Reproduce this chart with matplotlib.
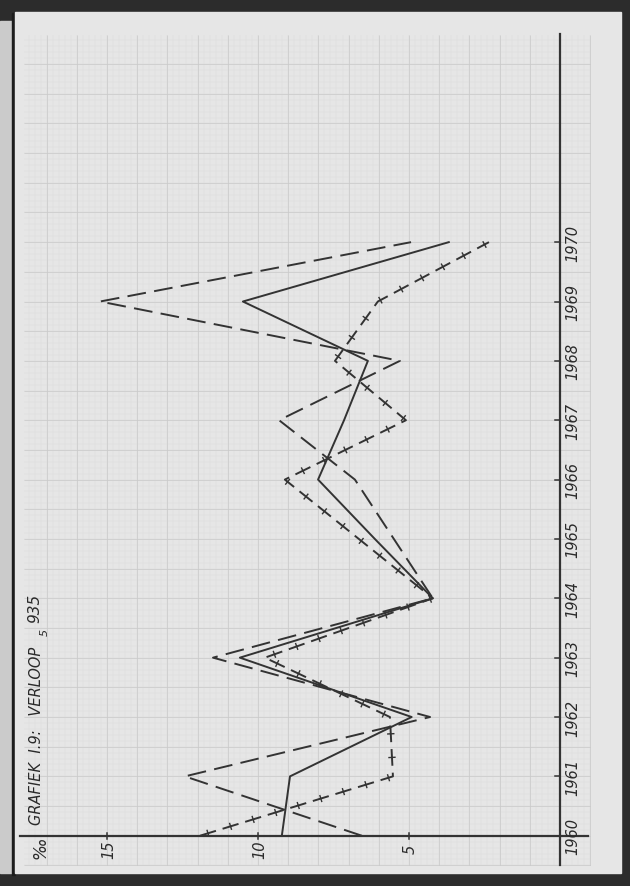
import numpy as np
import matplotlib
matplotlib.use('Agg')
import matplotlib.pyplot as plt
from matplotlib.patches import Rectangle

# values in promille
years = list(range(1960, 1971))
solid = [9.21, 8.94, 4.91, 10.60, 4.21, 6.13, 8.01, 7.15, 6.36, 10.50, 3.68]
dashed = [6.56, 12.42, 4.30, 11.49, 4.21, 5.50, 6.79, 9.30, 5.30, 15.23, 4.93]
crossed = [11.92, 5.53, 5.63, 9.77, 4.21, 6.66, 9.11, 5.10, 7.45, 6.03, 2.35]
value_ticks = [15, 10, 5]

W, H = 630, 887
ink = '#333333'
paper = '#e6e6e6'
plt.rcParams['lines.scale_dashes'] = False

fig = plt.figure(figsize=(W / 100, H / 100), dpi=100)
fig.patch.set_facecolor('#2c2c2c')


def frac(x0, y0, x1, y1):
    # pixel box (top-left origin) -> figure fraction rect
    return (x0 / W, 1 - y1 / H, (x1 - x0) / W, (y1 - y0) / H)


# binding strip and page
l, b, w, h = frac(0, 22, 12, 874)
fig.add_artist(Rectangle((l, b), w, h, transform=fig.transFigure, color='#cbcbcb', zorder=0))
l, b, w, h = frac(12, 14, 15, 876)
fig.add_artist(Rectangle((l, b), w, h, transform=fig.transFigure, color='#1c1c1c', zorder=0))
l, b, w, h = frac(15, 13, 621, 874)
fig.add_artist(Rectangle((l, b), w, h, transform=fig.transFigure, color=paper, zorder=0))

ax = fig.add_axes(frac(24, 36, 591, 867))
ax.set_xlim(17.75, -1.03)
ax.set_ylim(1959.49, 1973.49)
ax.set_facecolor(paper)
for s in ax.spines.values():
    s.set_visible(False)
ax.set_xticks([])
ax.set_yticks([])

# graph paper
x0, x1 = ax.get_xlim()
y0, y1 = ax.get_ylim()
ax.vlines(np.arange(-1.0, 17.8, 0.2), y0, y1, color='#dcdcdc', lw=0.3, zorder=1)
ax.hlines(np.arange(1959.5, 1973.5, 0.1), x1, x0, color='#dcdcdc', lw=0.3, zorder=1)
ax.vlines(np.arange(-1.0, 17.8, 1.0), y0, y1, color='#c9c9c9', lw=0.5, zorder=1)
ax.hlines(np.arange(1959.5, 1973.5, 0.5), x1, x0, color='#c9c9c9', lw=0.5, zorder=1)

# axes lines
ax.axhline(1960, xmin=-0.007, xmax=0.995, color=ink, lw=1.6, clip_on=False, zorder=3)
ax.axvline(0, ymin=0.001, ymax=1.001, color=ink, lw=1.6, clip_on=False, zorder=3)
for yr in years:
    ax.plot([0, 0.15], [yr, yr], color=ink, lw=1.1, zorder=3)
    ax.text(-0.44, yr, str(yr), rotation=90, ha='center', va='center',
            fontsize=10.5, style='italic', color='#2a2a2a')
for v in value_ticks:
    ax.plot([v, v], [1959.95, 1960.04], color=ink, lw=1.1, zorder=3)
    ax.text(v - 0.05, 1959.78, str(v), rotation=90, ha='center', va='center',
            fontsize=10.5, style='italic', color='#2a2a2a')

ax.text(17.22, 1959.81, '‰', rotation=90, ha='center', va='center',
        fontsize=12, style='italic', color='#2a2a2a', clip_on=False)
ax.text(17.35, 1961.70, 'GRAFIEK  I.9:   VERLOOP', rotation=90, ha='center', va='center',
        fontsize=10.5, style='italic', color='#2a2a2a')
ax.text(17.38, 1963.85, '935', rotation=90, ha='center', va='center',
        fontsize=11, style='italic', color='#2a2a2a')
ax.text(17.05, 1963.45, '5', rotation=90, ha='center', va='center',
        fontsize=8, style='italic', color='#2a2a2a')

# data lines
ax.plot(solid, years, color=ink, lw=1.4, zorder=4)
ax.plot(dashed, years, color=ink, lw=1.4, linestyle=(0, (13.5, 6.0)), zorder=4)
dash, gap = 12.0, 5.0
ax.plot(crossed, years, color=ink, lw=1.4, linestyle=(0, (dash, gap)), zorder=4)

# cross bars on the third series, placed in the middle of each dash
pts = ax.transData.transform(np.column_stack([crossed, years]))
seg = np.diff(pts, axis=0)
seglen = np.hypot(seg[:, 0], seg[:, 1])
cum = np.concatenate([[0], np.cumsum(seglen)])
period = (dash + gap) * 100 / 72
bars_x, bars_y = [], []
for d in np.arange(dash * 100 / 72 / 2, cum[-1], period):
    i = min(np.searchsorted(cum, d, side='right') - 1, len(seg) - 1)
    t = seg[i] / seglen[i]
    p = pts[i] + t * (d - cum[i])
    n = np.array([-t[1], t[0]]) * 3.0
    a, c = ax.transData.inverted().transform([p - n, p + n])
    bars_x += [a[0], c[0], np.nan]
    bars_y += [a[1], c[1], np.nan]
ax.plot(bars_x, bars_y, color=ink, lw=1.0, zorder=4)

fig.savefig('out.png', dpi=100, facecolor=fig.get_facecolor())
